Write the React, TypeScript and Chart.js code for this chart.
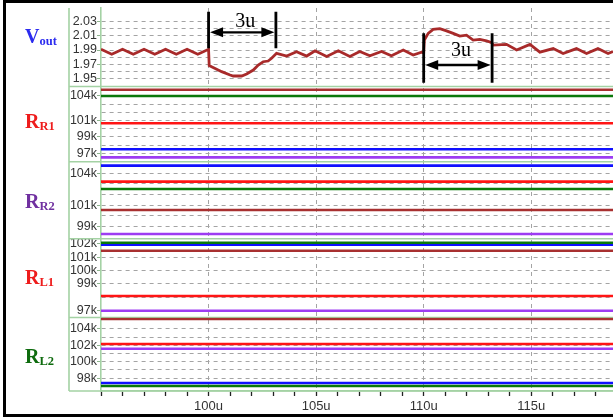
import React, { useEffect, useRef } from 'react';
import { Chart, registerables } from 'chart.js';

Chart.register(...registerables);

// ---------------- data ----------------
const timeRange = [95, 118.8]; // microseconds
const xLabelTicks = [100, 105, 110, 115];

const voutTime = [
  95, 95.5, 96, 96.5, 97, 97.5, 98, 98.5, 99, 99.5, 100,
  100.03, 100.14, 100.61, 101.0, 101.15, 101.54, 101.77, 102.08, 102.31, 102.54, 102.77, 102.93,
  103.16, 103.63, 104.09, 104.56, 104.95, 105.49, 106.03, 106.57, 107.03, 107.5, 108.04, 108.5,
  109.05, 109.51, 109.9, 110.0, 110.03, 110.21, 110.44, 110.75, 111.06, 111.37, 111.68, 111.99,
  112.3, 112.61, 112.92, 113.16, 113.23, 113.85, 114.32, 114.94, 115.4, 116.02, 116.48, 117.1,
  117.57, 118.1, 118.57, 118.8,
];
const voutValues = [
  1.991, 1.984, 1.991, 1.984, 1.991, 1.984, 1.991, 1.984, 1.991, 1.984, 1.991,
  1.968, 1.9665, 1.9595, 1.9548, 1.9534, 1.9534, 1.9562, 1.9618, 1.9689, 1.9735, 1.9745, 1.9783,
  1.9853, 1.9815, 1.9876, 1.9815, 1.989, 1.981, 1.989, 1.981, 1.988, 1.982, 1.988, 1.982,
  1.99, 1.983, 1.987, 1.986, 2.004, 2.0135, 2.019, 2.02, 2.017, 2.0135, 2.0097, 2.011,
  2.004, 2.005, 2.003, 2.0003, 1.997, 1.998, 1.99, 1.998, 1.987, 1.992, 1.985, 1.992,
  1.985, 1.992, 1.985, 1.988,
];
const voutGrid = [1.95, 1.96, 1.97, 1.98, 1.99, 2.0, 2.01, 2.02, 2.03];
const voutTickLabels = [1.95, 1.97, 1.99, 2.01, 2.03];

// five cases: dark red, green, red, blue, purple
const caseColors = ['#a83030', '#0a780a', '#ff1414', '#1010ff', '#9d3cf2'];
const rr1Values = [104.74, 103.97, 100.65, 97.49, 96.51];
const rr2Values = [100.56, 102.53, 103.21, 104.71, 98.31];
const rl1Values = [101.49, 102.09, 98.1, 101.94, 97.0];
const rl2Values = [105.19, 97.05, 102.15, 97.41, 101.58];

const rr1Grid = [97, 98, 99, 100, 101, 102, 103, 104];
const rr1TickLabels = [97, 99, 101, 104];
const rr2Grid = [99, 100, 101, 102, 103, 104];
const rr2TickLabels = [99, 101, 104];
const rl1Grid = [97, 98, 99, 100, 101, 102];
const rl1TickLabels = [97, 99, 100, 101, 102];
const rl2Grid = [98, 99, 100, 101, 102, 103, 104];
const rl2TickLabels = [98, 100, 102, 104];

const annotations = [
  { from: 100, to: 103.13, top: 2.044, bottom: 1.9924, arrowAt: 2.0149, labelAt: 2.0301, text: '3u' },
  { from: 110, to: 113.18, top: 2.0135, bottom: 1.944, arrowAt: 1.9689, labelAt: 1.9893, text: '3u' },
];

const sideLabels = [
  { main: 'V', sub: 'out', color: '#2b2bef' },
  { main: 'R', sub: 'R1', color: '#ee1c1c' },
  { main: 'R', sub: 'R2', color: '#7030a0' },
  { main: 'R', sub: 'L1', color: '#ee1c1c' },
  { main: 'R', sub: 'L2', color: '#0e6b0e' },
];

// ---------------- styling / layout ----------------
const sideLabelBaselines = [43, 128, 208, 284, 363];
const frameColor = '#a4d2a4';
const gridColor = '#a4a4a4';

type Panel = {
  id: string; min: number; max: number; weight: number; stackWeight: number;
  grid: number[]; labels: number[]; fmt: (v: number) => string;
};

const kFmt = (v: number) => `${Math.round(v)}k`;
const panels: Panel[] = [
  { id: 'yVout', min: 1.9386, max: 2.0492, weight: 5, stackWeight: 78.5, grid: voutGrid, labels: voutTickLabels, fmt: (v) => v.toFixed(2) },
  { id: 'yRR1', min: 95.98, max: 105.13, weight: 4, stackWeight: 75.2, grid: rr1Grid, labels: rr1TickLabels, fmt: kFmt },
  { id: 'yRR2', min: 97.87, max: 105.08, weight: 3, stackWeight: 77, grid: rr2Grid, labels: rr2TickLabels, fmt: kFmt },
  { id: 'yRL1', min: 96.49, max: 102.39, weight: 2, stackWeight: 78.8, grid: rl1Grid, labels: rl1TickLabels, fmt: kFmt },
  { id: 'yRL2', min: 96.44, max: 105.38, weight: 1, stackWeight: 73.5, grid: rl2Grid, labels: rl2TickLabels, fmt: kFmt },
];
const resistancePanels: [string, number[]][] = [
  ['yRR1', rr1Values], ['yRR2', rr2Values], ['yRL1', rl1Values], ['yRL2', rl2Values],
];

const hasLabel = (list: number[], v: number) => list.some((l) => Math.abs(l - v) < 1e-6);

const framePlugin = {
  id: 'frame',
  beforeDatasetsDraw(chart: any) {
    const ctx = chart.ctx;
    const area = chart.chartArea;
    const ys = panels.map((p) => chart.scales[p.id]);
    const left = ys[0].left;
    ctx.save();
    ctx.strokeStyle = frameColor;
    ctx.lineWidth = 1.6;
    ctx.beginPath();
    ys.slice(1).forEach((s: any) => {
      ctx.moveTo(left, s.top);
      ctx.lineTo(area.right, s.top);
    });
    ctx.moveTo(left, area.bottom);
    ctx.lineTo(area.right, area.bottom);
    ctx.moveTo(left, area.top);
    ctx.lineTo(left, area.bottom);
    ctx.stroke();
    ctx.restore();
  },
};

const annotationPlugin = {
  id: 'arrows',
  afterDatasetsDraw(chart: any) {
    const ctx = chart.ctx;
    const xs = chart.scales.x;
    const ys = chart.scales.yVout;
    ctx.save();
    ctx.strokeStyle = '#000';
    ctx.fillStyle = '#000';
    annotations.forEach((a) => {
      const x1 = xs.getPixelForValue(a.from);
      const x2 = xs.getPixelForValue(a.to);
      const yt = ys.getPixelForValue(a.top);
      const yb = ys.getPixelForValue(a.bottom);
      const ya = ys.getPixelForValue(a.arrowAt);
      const yl = ys.getPixelForValue(a.labelAt);
      ctx.lineWidth = 2.8;
      ctx.beginPath();
      ctx.moveTo(x1, yt); ctx.lineTo(x1, yb);
      ctx.moveTo(x2, yt); ctx.lineTo(x2, yb);
      ctx.stroke();
      ctx.lineWidth = 2.4;
      ctx.beginPath();
      ctx.moveTo(x1 + 8, ya); ctx.lineTo(x2 - 8, ya);
      ctx.stroke();
      const head = (tip: number, dir: number) => {
        ctx.beginPath();
        ctx.moveTo(tip, ya);
        ctx.lineTo(tip - dir * 13, ya - 5);
        ctx.lineTo(tip - dir * 13, ya + 5);
        ctx.closePath();
        ctx.fill();
      };
      head(x2 - 1.5, 1);
      head(x1 + 1.5, -1);
      ctx.font = "20px 'Liberation Serif', 'Times New Roman', serif";
      ctx.textAlign = 'center';
      ctx.textBaseline = 'middle';
      ctx.fillText(a.text, (x1 + x2) / 2 + 3, yl);
    });
    ctx.restore();
  },
};

export default function App() {
  const canvasRef = useRef<HTMLCanvasElement | null>(null);

  useEffect(() => {
    if (!canvasRef.current) return;
    Chart.defaults.font.family = "'Liberation Sans', Arial, sans-serif";

    const datasets: any[] = [
      {
        label: 'Vout',
        data: voutTime.map((t, i) => ({ x: t, y: voutValues[i] })),
        yAxisID: 'yVout',
        borderColor: '#a82a2a',
        borderWidth: 2.8,
        pointRadius: 0,
        tension: 0,
      },
    ];
    resistancePanels.forEach(([id, values]) => {
      values.forEach((v, i) => {
        datasets.push({
          label: `${id}-${i}`,
          data: timeRange.map((t) => ({ x: t, y: v })),
          yAxisID: id,
          borderColor: caseColors[i],
          borderWidth: 2.6,
          pointRadius: 0,
        });
      });
    });

    const scales: any = {
      x: {
        type: 'linear',
        min: timeRange[0],
        max: timeRange[1],
        afterFit: (s: any) => { s.height = 26; },
        ticks: {
          stepSize: 1,
          includeBounds: false,
          autoSkip: false,
          maxRotation: 0,
          padding: 3,
          color: '#333',
          font: { size: 13 },
          callback: (v: any) => (hasLabel(xLabelTicks, Number(v)) ? `${Number(v)}u` : ''),
        },
        grid: {
          color: (c: any) => (c.tick && hasLabel(xLabelTicks, c.tick.value) ? gridColor : 'rgba(0,0,0,0)'),
          lineWidth: 1,
          tickLength: 5,
          tickColor: '#222',
          tickWidth: 1.3,
        },
        border: { color: frameColor, width: 1.6, dash: [4, 4] },
      },
    };
    panels.forEach((p) => {
      scales[p.id] = {
        type: 'linear',
        position: 'left',
        stack: 'panels',
        stackWeight: p.stackWeight,
        weight: p.weight,
        min: p.min,
        max: p.max,
        offset: false,
        afterFit: (s: any) => { s.width = 32; },
        afterBuildTicks: (s: any) => { s.ticks = p.grid.map((v) => ({ value: v })); },
        ticks: {
          autoSkip: false,
          padding: 0,
          color: '#333',
          font: { size: 12.5 },
          callback: (v: any) => (hasLabel(p.labels, Number(v)) ? p.fmt(Number(v)) : ''),
        },
        grid: {
          color: gridColor,
          lineWidth: 1,
          tickLength: 4,
          tickColor: (c: any) => (c.tick && hasLabel(p.labels, c.tick.value) ? '#8fb58f' : 'rgba(0,0,0,0)'),
        },
        border: { color: frameColor, width: 1.6, dash: [4, 4] },
      };
    });

    const chart = new Chart(canvasRef.current, {
      type: 'line',
      data: { datasets },
      options: {
        animation: false,
        responsive: false,
        devicePixelRatio: 1,
        layout: { padding: { left: 69, top: 8, right: 0, bottom: 0 } },
        plugins: { legend: { display: false }, tooltip: { enabled: false } },
        scales,
      },
      plugins: [framePlugin, annotationPlugin],
    });
    return () => chart.destroy();
  }, []);

  return (
    <div style={{ position: 'fixed', left: 0, top: 0, width: 613, height: 417, background: '#fff', overflow: 'hidden' }}>
      <canvas ref={canvasRef} width={613} height={417} style={{ display: 'block', position: 'absolute', left: 0, top: 0 }} />
      {sideLabels.map((l, i) => (
        <div
          key={i}
          style={{
            position: 'absolute',
            left: 25,
            top: sideLabelBaselines[i] - 16,
            font: "bold 20px 'Liberation Serif', 'Times New Roman', serif",
            lineHeight: '19px',
            color: l.color,
            whiteSpace: 'nowrap',
          }}
        >
          {l.main}
          <span style={{ fontSize: 12.5, position: 'relative', top: 2 }}>{l.sub}</span>
        </div>
      ))}
      <div
        style={{
          position: 'absolute', left: 3, top: 0, width: 700, height: 417, boxSizing: 'border-box',
          borderLeft: '3.5px solid #000', borderTop: '3px solid #000', borderBottom: '3.5px solid #000',
          pointerEvents: 'none',
        }}
      />
    </div>
  );
}
